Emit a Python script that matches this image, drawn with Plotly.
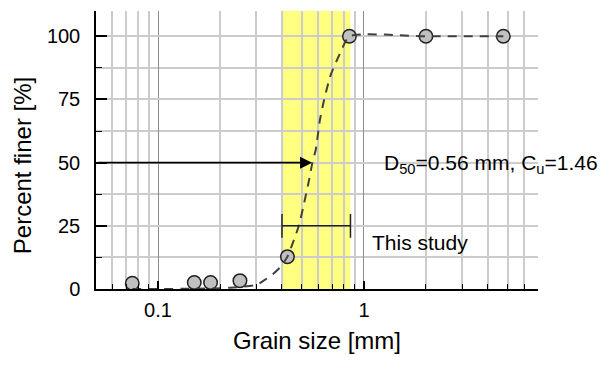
import numpy as np
import plotly.graph_objects as go

# ---- data ----
sample_size_mm = [0.075, 0.15, 0.18, 0.25, 0.425, 0.85, 2.0, 4.75]
sample_finer_pct = [2.3, 2.6, 2.6, 3.3, 12.8, 100, 100, 100]

curve_size_mm = [0.075, 0.10, 0.15, 0.20, 0.25, 0.30, 0.33, 0.36, 0.394, 0.425,
                 0.457, 0.484, 0.512, 0.541, 0.562, 0.583, 0.611, 0.640, 0.689,
                 0.771, 0.85, 2.0, 4.75]
curve_finer_pct = [0.0, 0.0, 0.1, 0.3, 0.8, 1.6, 3.6, 5.8, 8.8, 12.8,
                   19.4, 25.3, 33.9, 43.0, 50.0, 55.0, 66.8, 74.7, 84.6,
                   93.8, 100, 100, 100]

study_range_mm = [0.40, 0.86]
study_level_pct = [25, 25]
d50_mm = 0.56
d50_pct = 50
x_range_mm = [0.05, 7]
y_range_pct = [0, 110]

y_major = [0, 25, 50, 75, 100]
y_minor = [12.5, 37.5, 62.5, 87.5]
x_major = [0.1, 1]
x_major_text = ["0.1", "1"]
x_minor = [0.06, 0.07, 0.08, 0.09, 0.2, 0.3, 0.4, 0.5, 0.6, 0.7, 0.8, 0.9,
           2, 3, 4, 5, 6]

FONT = "Liberation Sans, Arial, sans-serif"

fig = go.Figure()

# sample points
fig.add_trace(go.Scatter(
    x=sample_size_mm, y=sample_finer_pct, mode="markers",
    marker=dict(size=13.5, color="#c0c0c0", line=dict(color="#202020", width=1.5)),
    showlegend=False, hoverinfo="skip"))

# fitted dashed curve
fig.add_trace(go.Scatter(
    x=curve_size_mm, y=curve_finer_pct, mode="lines",
    line=dict(color="#404040", width=2, dash="9px,7px", shape="spline", smoothing=0.6),
    showlegend=False, hoverinfo="skip"))

# "This study" range bar
fig.add_trace(go.Scatter(
    x=study_range_mm, y=study_level_pct, mode="lines+markers",
    line=dict(color="#202020", width=1.5),
    marker=dict(symbol="line-ns-open", size=17, line=dict(color="#202020", width=1.5)),
    showlegend=False, hoverinfo="skip"))

# yellow band
fig.add_shape(type="rect", xref="x", yref="y",
              x0=study_range_mm[0], x1=study_range_mm[1],
              y0=y_range_pct[0], y1=y_range_pct[1],
              fillcolor="#ffff80", line=dict(width=0), layer="below")

# D50 arrow
fig.add_annotation(x=np.log10(d50_mm), y=d50_pct, xref="x", yref="y",
                   ax=np.log10(x_range_mm[0]), ay=d50_pct, axref="x", ayref="y",
                   showarrow=True, arrowhead=2, arrowsize=1.5, arrowwidth=1.6,
                   arrowcolor="black", text="")

fig.add_annotation(x=np.log10(1.228), y=49.5, xref="x", yref="y",
                   text="D<sub>50</sub>=0.56 mm, C<sub>u</sub>=1.46",
                   showarrow=False, xanchor="left", yanchor="middle",
                   font=dict(family=FONT, size=21, color="black"))
fig.add_annotation(x=np.log10(1.072), y=18.5, xref="x", yref="y",
                   text="This study", showarrow=False, xanchor="left", yanchor="middle",
                   font=dict(family=FONT, size=21, color="black"))

# axis titles
fig.add_annotation(x=0.5, y=-0.184, xref="paper", yref="paper",
                   text="Grain size [mm]", showarrow=False,
                   xanchor="center", yanchor="middle",
                   font=dict(family=FONT, size=24, color="black"))
fig.add_annotation(x=-0.166, y=0.444, xref="paper", yref="paper",
                   text="Percent finer [%]", showarrow=False, textangle=-90,
                   xanchor="center", yanchor="middle",
                   font=dict(family=FONT, size=24, color="black"))

fig.update_xaxes(
    type="log", range=[np.log10(x_range_mm[0]), np.log10(x_range_mm[1])],
    tickmode="array", tickvals=x_major, ticktext=x_major_text,
    ticks="inside", ticklen=8, tickwidth=1.5, tickcolor="black",
    showgrid=True, gridcolor="#8c8c8c", gridwidth=1.2,
    showline=True, linecolor="black", linewidth=1.5,
    zeroline=False, ticklabelstandoff=2,
    tickfont=dict(family=FONT, size=20, color="black"),
    minor=dict(tickvals=x_minor, ticks="inside", ticklen=5, tickwidth=1.2,
               tickcolor="black", showgrid=True, gridcolor="#cccccc", gridwidth=1.5),
)
fig.update_yaxes(
    range=y_range_pct, tickmode="array", tickvals=y_major,
    ticks="inside", ticklen=11, tickwidth=1.5, tickcolor="black",
    showgrid=True, gridcolor="#cccccc", gridwidth=1.5,
    showline=True, linecolor="black", linewidth=1.5,
    zeroline=False, ticklabelstandoff=10,
    tickfont=dict(family=FONT, size=20, color="black"),
    minor=dict(tickvals=y_minor, ticks="inside", ticklen=6, tickwidth=1.2,
               tickcolor="black", showgrid=True, gridcolor="#cccccc", gridwidth=1.5),
)

fig.update_layout(
    width=604, height=365,
    margin=dict(l=96, r=66, t=11, b=76),
    paper_bgcolor="white", plot_bgcolor="white",
    showlegend=False,
    font=dict(family=FONT, color="black"),
)

fig.write_html("out.html")
